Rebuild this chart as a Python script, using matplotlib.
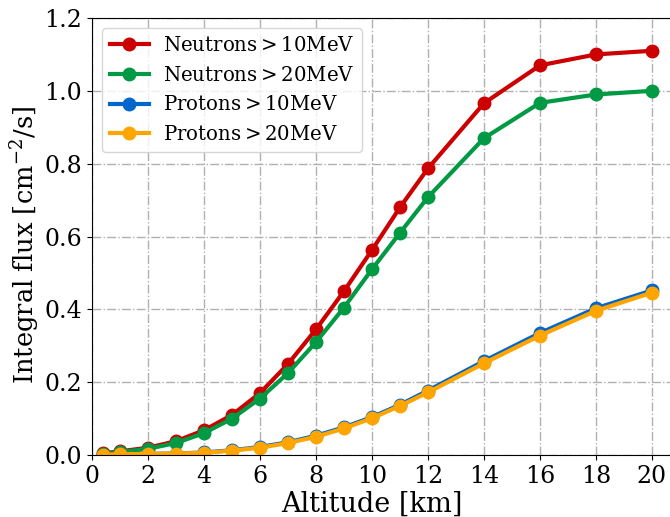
import numpy as np
import matplotlib
matplotlib.use("Agg")
import matplotlib.pyplot as plt

# altitude [km] and integral flux [cm^-2/s]
altitude = [0.4, 1, 2, 3, 4, 5, 6, 7, 8, 9, 10, 11, 12, 14, 16, 18, 20]
neutrons_10 = [0.005, 0.01, 0.02, 0.038, 0.068, 0.11, 0.17, 0.25, 0.345, 0.45,
               0.563, 0.68, 0.787, 0.966, 1.07, 1.10, 1.11]
neutrons_20 = [0.004, 0.008, 0.017, 0.033, 0.06, 0.1, 0.155, 0.225, 0.31, 0.405,
               0.51, 0.61, 0.708, 0.87, 0.967, 0.99, 1.0]
protons_10 = [0.001, 0.002, 0.003, 0.004, 0.007, 0.013, 0.022, 0.035, 0.053, 0.076,
              0.104, 0.138, 0.177, 0.258, 0.335, 0.403, 0.452]
protons_20 = [0.001, 0.002, 0.003, 0.004, 0.006, 0.012, 0.02, 0.033, 0.05, 0.073,
              0.101, 0.135, 0.172, 0.252, 0.328, 0.396, 0.446]

plt.rcParams['font.family'] = 'DejaVu Serif'
plt.rcParams['mathtext.fontset'] = 'dejavuserif'

fig = plt.figure(figsize=(6.7, 5.17), dpi=100)
ax = fig.add_axes([92 / 670, 62 / 517, 588 / 670, 437 / 517])

ax.plot(altitude, neutrons_10, '-o', color='#cc0000', lw=3, ms=9, label='Neutrons$>$10MeV')
ax.plot(altitude, neutrons_20, '-o', color='#009944', lw=3, ms=9, label='Neutrons$>$20MeV')
ax.plot(altitude, protons_10, '-o', color='#0066cc', lw=3, ms=9, label='Protons$>$10MeV')
ax.plot(altitude, protons_20, '-o', color='#ffa500', lw=3, ms=9, label='Protons$>$20MeV')

ax.set_xlim(0, 21)
ax.set_ylim(0, 1.2)
ax.set_xticks(np.arange(0, 21, 2))
ax.set_yticks(np.arange(0, 1.21, 0.2))
ax.grid(True, linestyle='-.', color='#b0b0b0', lw=1)
ax.tick_params(labelsize=17)
ax.set_xlabel('Altitude [km]', fontsize=19.5, labelpad=2)
ax.set_ylabel('Integral flux [cm$^{-2}$/s]', fontsize=18.5, labelpad=1.5)
ax.xaxis.label.set_x(0.476)
ax.yaxis.label.set_y(0.48)
ax.legend(loc='upper left', fontsize=14.2, handlelength=2, handletextpad=0.7,
          borderaxespad=0.5, labelspacing=0.55)

plt.savefig('out.png', dpi=100)
